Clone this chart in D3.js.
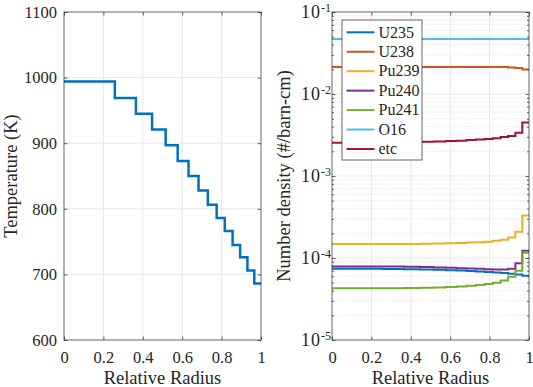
<!DOCTYPE html>
<html>
<head>
<meta charset="utf-8">
<script src="https://cdn.jsdelivr.net/npm/d3@7"></script>
<style>
  body { margin: 0; background: #fff; }
  svg { display: block; font-family: "Liberation Serif", "Times New Roman", serif; }
</style>
</head>
<body>
<div id="chart"></div>
<script>
// Ring boundaries (relative radius), 15 equal-area rings
var ringEdges = [0, 0.258, 0.365, 0.447, 0.516, 0.577, 0.632, 0.683, 0.730, 0.775, 0.816, 0.856, 0.894, 0.931, 0.966, 1]

// Left panel: ring temperature (K)
var temperature = [994, 969, 945, 921, 897, 873, 850, 828, 806, 786, 766, 745, 726, 706, 686]

// Right panel: number densities per ring (#/barn-cm)
var nuclides = ["U235", "U238", "Pu239", "Pu240", "Pu241", "O16", "etc"]
var u235 = [7.40e-5, 7.36e-5, 7.30e-5, 7.24e-5, 7.17e-5, 7.10e-5, 7.02e-5, 6.94e-5, 6.85e-5, 6.76e-5, 6.66e-5, 6.55e-5, 6.43e-5, 6.28e-5, 6.07e-5]
var u238 = [0.0214, 0.0214, 0.0214, 0.0214, 0.0214, 0.0214, 0.0214, 0.0214, 0.0214, 0.0214, 0.0213, 0.0213, 0.0211, 0.0207, 0.0199]
var pu239 = [1.48e-4, 1.48e-4, 1.48e-4, 1.49e-4, 1.50e-4, 1.51e-4, 1.52e-4, 1.54e-4, 1.56e-4, 1.58e-4, 1.62e-4, 1.67e-4, 1.78e-4, 2.09e-4, 3.29e-4]
var pu240 = [7.88e-5, 7.85e-5, 7.80e-5, 7.75e-5, 7.68e-5, 7.60e-5, 7.52e-5, 7.45e-5, 7.38e-5, 7.30e-5, 7.24e-5, 7.22e-5, 7.40e-5, 8.60e-5, 1.23e-4]
var pu241 = [4.28e-5, 4.29e-5, 4.31e-5, 4.34e-5, 4.38e-5, 4.43e-5, 4.50e-5, 4.58e-5, 4.68e-5, 4.82e-5, 5.00e-5, 5.30e-5, 5.90e-5, 6.98e-5, 1.16e-4]
var o16 = [0.0468, 0.0468, 0.0468, 0.0468, 0.0468, 0.0468, 0.0468, 0.0468, 0.0468, 0.0468, 0.0468, 0.0468, 0.0468, 0.0468, 0.0468]
var etc = [0.00255, 0.00257, 0.00259, 0.00261, 0.00264, 0.00267, 0.00270, 0.00274, 0.00278, 0.00282, 0.00288, 0.00298, 0.00308, 0.00337, 0.00448]
var densities = [u235, u238, pu239, pu240, pu241, o16, etc]
var colors = ["#0072bd", "#d95319", "#edb120", "#7e2f8e", "#77ac30", "#4dbeee", "#a2142f"]

// Tick values
var radiusTicks = [0, 0.2, 0.4, 0.6, 0.8, 1]
var tempTicks = [600, 700, 800, 900, 1000, 1100]
var densityTicks = [1e-5, 1e-4, 1e-3, 1e-2, 1e-1]
var densityExponents = ["-5", "-4", "-3", "-2", "-1"]

var width = 533, height = 387
var axisColor = "#262626"
var tickLen = 3.5
var serif = "'Liberation Serif', 'Times New Roman', serif"

var svg = d3.select("#chart").append("svg")
  .attr("width", width)
  .attr("height", height)
  .attr("font-family", serif)

svg.append("rect").attr("width", width).attr("height", height).attr("fill", "#fff")

function steps(values) {
  return ringEdges.map((r, i) => ({ r: r, v: values[Math.min(i, values.length - 1)] }))
}

function styleAxis(g, size) {
  g.attr("font-family", serif).attr("font-size", size)
  g.selectAll(".domain").remove()
  g.selectAll(".tick line").attr("stroke", axisColor).attr("stroke-width", 0.7)
  g.selectAll(".tick text").attr("fill", axisColor)
}

// ---------- Left panel: temperature ----------
var left = { x0: 64, x1: 261, y0: 12, y1: 340 }
var xLeft = d3.scaleLinear().domain([0, 1]).range([left.x0, left.x1])
var yLeft = d3.scaleLinear().domain([600, 1100]).range([left.y1, left.y0])

var gL = svg.append("g").attr("class", "left")

// grid
gL.append("g").selectAll("line").data(radiusTicks.slice(1, -1)).enter().append("line")
  .attr("x1", d => xLeft(d)).attr("x2", d => xLeft(d))
  .attr("y1", left.y0).attr("y2", left.y1)
  .attr("stroke", "#e1e1e1").attr("stroke-width", 0.8)
gL.append("g").selectAll("line").data(tempTicks.slice(1, -1)).enter().append("line")
  .attr("x1", left.x0).attr("x2", left.x1)
  .attr("y1", d => yLeft(d)).attr("y2", d => yLeft(d))
  .attr("stroke", "#e1e1e1").attr("stroke-width", 0.8)

gL.append("g").attr("transform", `translate(0,${left.y1})`)
  .call(d3.axisBottom(xLeft).tickValues(radiusTicks).tickFormat(d3.format("")).tickSizeInner(-tickLen).tickSizeOuter(0).tickPadding(11))
  .call(g => styleAxis(g, 16.5))
gL.append("g").attr("transform", `translate(0,${left.y0})`)
  .call(d3.axisTop(xLeft).tickValues(radiusTicks).tickFormat("").tickSizeInner(-tickLen).tickSizeOuter(0))
  .call(g => styleAxis(g, 16.5))
gL.append("g").attr("transform", `translate(${left.x0},0)`)
  .call(d3.axisLeft(yLeft).tickValues(tempTicks).tickFormat(d3.format("d")).tickSizeInner(-tickLen).tickSizeOuter(0).tickPadding(7))
  .call(g => styleAxis(g, 16.5))
gL.append("g").attr("transform", `translate(${left.x1},0)`)
  .call(d3.axisRight(yLeft).tickValues(tempTicks).tickFormat("").tickSizeInner(-tickLen).tickSizeOuter(0))
  .call(g => styleAxis(g, 16.5))

gL.append("path")
  .datum(steps(temperature))
  .attr("fill", "none")
  .attr("stroke", "#0072bd")
  .attr("stroke-width", 2.5)
  .attr("d", d3.line().x(d => xLeft(d.r)).y(d => yLeft(d.v)).curve(d3.curveStepAfter))

gL.append("rect")
  .attr("x", left.x0).attr("y", left.y0)
  .attr("width", left.x1 - left.x0).attr("height", left.y1 - left.y0)
  .attr("fill", "none").attr("stroke", axisColor).attr("stroke-width", 0.7)

gL.append("text")
  .attr("x", (left.x0 + left.x1) / 2).attr("y", 383.5)
  .attr("text-anchor", "middle").attr("font-size", 18.5).attr("fill", axisColor)
  .text("Relative Radius")
gL.append("text")
  .attr("transform", `translate(16.5,${(left.y0 + left.y1) / 2}) rotate(-90)`)
  .attr("text-anchor", "middle").attr("font-size", 18.5).attr("fill", axisColor)
  .text("Temperature (K)")

// ---------- Right panel: number density ----------
var right = { x0: 332, x1: 529, y0: 12, y1: 340 }
var xRight = d3.scaleLinear().domain([0, 1]).range([right.x0, right.x1])
var yRight = d3.scaleLog().domain([1e-5, 1e-1]).range([right.y1, right.y0])
var minorTicks = yRight.ticks().filter(d => densityTicks.indexOf(d) < 0)

var gR = svg.append("g").attr("class", "right")

// minor grid (dotted), then major grid
gR.append("g").selectAll("line").data(minorTicks).enter().append("line")
  .attr("x1", right.x0).attr("x2", right.x1)
  .attr("y1", d => yRight(d)).attr("y2", d => yRight(d))
  .attr("stroke", "#d2d2d2").attr("stroke-width", 0.7).attr("stroke-dasharray", "1,1.5")
gR.append("g").selectAll("line").data(densityTicks.slice(1, -1)).enter().append("line")
  .attr("x1", right.x0).attr("x2", right.x1)
  .attr("y1", d => yRight(d)).attr("y2", d => yRight(d))
  .attr("stroke", "#e1e1e1").attr("stroke-width", 0.8)
gR.append("g").selectAll("line").data(radiusTicks.slice(1, -1)).enter().append("line")
  .attr("x1", d => xRight(d)).attr("x2", d => xRight(d))
  .attr("y1", right.y0).attr("y2", right.y1)
  .attr("stroke", "#e1e1e1").attr("stroke-width", 0.8)

gR.append("g").attr("transform", `translate(0,${right.y1})`)
  .call(d3.axisBottom(xRight).tickValues(radiusTicks).tickFormat(d3.format("")).tickSizeInner(-tickLen).tickSizeOuter(0).tickPadding(11))
  .call(g => styleAxis(g, 16.5))
gR.append("g").attr("transform", `translate(0,${right.y0})`)
  .call(d3.axisTop(xRight).tickValues(radiusTicks).tickFormat("").tickSizeInner(-tickLen).tickSizeOuter(0))
  .call(g => styleAxis(g, 16.5))

// log axis: decades labelled 10^n, minor ticks shorter
var yAxisR = gR.append("g").attr("transform", `translate(${right.x0},0)`)
  .call(d3.axisLeft(yRight).tickValues(densityTicks).tickFormat("").tickSizeInner(-tickLen).tickSizeOuter(0).tickPadding(1))
  .call(g => styleAxis(g, 18))
yAxisR.selectAll(".tick text").each(function(d, i) {
  var t = d3.select(this).attr("dy", "0.32em").attr("text-anchor", "end")
  t.append("tspan").attr("letter-spacing", 1).text("10")
  t.append("tspan").attr("font-size", 12).attr("dy", "-0.55em").text(densityExponents[i])
})
gR.append("g").attr("transform", `translate(${right.x0},0)`)
  .call(d3.axisLeft(yRight).tickValues(minorTicks).tickFormat("").tickSizeInner(-2).tickSizeOuter(0))
  .call(g => styleAxis(g, 16.5))
gR.append("g").attr("transform", `translate(${right.x1},0)`)
  .call(d3.axisRight(yRight).tickValues(densityTicks).tickFormat("").tickSizeInner(-tickLen).tickSizeOuter(0))
  .call(g => styleAxis(g, 16.5))
gR.append("g").attr("transform", `translate(${right.x1},0)`)
  .call(d3.axisRight(yRight).tickValues(minorTicks).tickFormat("").tickSizeInner(-2).tickSizeOuter(0))
  .call(g => styleAxis(g, 16.5))

var densityLine = d3.line().x(d => xRight(d.r)).y(d => yRight(d.v)).curve(d3.curveStepAfter)
gR.append("g").selectAll("path").data(densities).enter().append("path")
  .attr("fill", "none")
  .attr("stroke", (d, i) => colors[i])
  .attr("stroke-width", 2)
  .attr("d", d => densityLine(steps(d)))

gR.append("rect")
  .attr("x", right.x0).attr("y", right.y0)
  .attr("width", right.x1 - right.x0).attr("height", right.y1 - right.y0)
  .attr("fill", "none").attr("stroke", axisColor).attr("stroke-width", 0.7)

gR.append("text")
  .attr("x", (right.x0 + right.x1) / 2).attr("y", 383.5)
  .attr("text-anchor", "middle").attr("font-size", 18.5).attr("fill", axisColor)
  .text("Relative Radius")
gR.append("text")
  .attr("transform", `translate(290,${(right.y0 + right.y1) / 2}) rotate(-90)`)
  .attr("text-anchor", "middle").attr("font-size", 18.5).attr("fill", axisColor)
  .text("Number density (#/barn-cm)")

// Legend
var legend = gR.append("g").attr("class", "legend").attr("transform", "translate(342,20)")
legend.append("rect")
  .attr("width", 80).attr("height", 140)
  .attr("fill", "#fff").attr("stroke", axisColor).attr("stroke-width", 0.7)
var rows = legend.selectAll("g.row").data(nuclides).enter().append("g")
  .attr("class", "row")
  .attr("transform", (d, i) => `translate(0,${12.3 + i * 19.45})`)
rows.append("line")
  .attr("x1", 4.5).attr("x2", 32.5)
  .attr("stroke", (d, i) => colors[i]).attr("stroke-width", 2)
rows.append("text")
  .attr("x", 36.5).attr("dy", "0.33em")
  .attr("font-size", 16).attr("fill", axisColor)
  .text(d => d)
</script>
</body>
</html>
